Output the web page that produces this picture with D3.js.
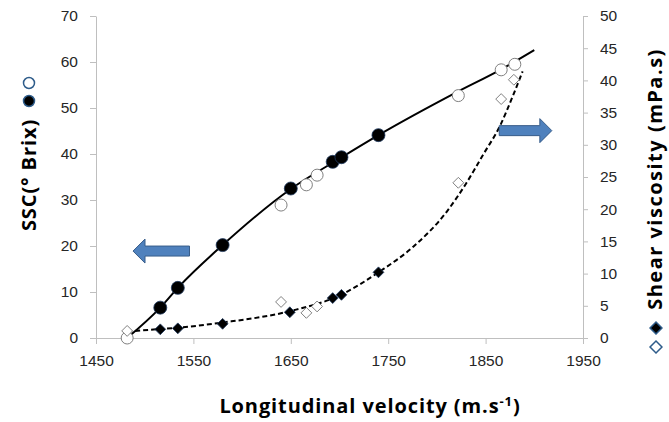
<!DOCTYPE html>
<html>
<head>
<meta charset="utf-8">
<script src="https://cdn.jsdelivr.net/npm/d3@7"></script>
<style>
  body { margin: 0; background: #fff; }
  svg { font-family: "Open Sans", Lato, sans-serif; }
  .tick text { fill: #262626; font-size: 15.5px; }
  .domain, .tick line { stroke: #bfbfbf; }
  .title { font-weight: bold; fill: #000; font-size: 20px; letter-spacing: 0.9px; }
</style>
</head>
<body>
<div id="chart"></div>
<script>
// SSC (left axis, °Brix) vs longitudinal velocity
var sscFilledX = [1516, 1534, 1580, 1650, 1693, 1702, 1740];
var sscFilledY = [6.6, 10.9, 20.2, 32.5, 38.3, 39.3, 44.1];
var sscOpenX = [1482, 1640, 1666, 1677, 1822, 1866, 1880];
var sscOpenY = [0, 28.9, 33.3, 35.4, 52.7, 58.3, 59.5];
// shear viscosity (right axis, mPa.s)
var viscFilledX = [1516, 1534, 1580, 1649, 1693, 1702, 1740];
var viscFilledY = [1.35, 1.5, 2.2, 4.0, 6.2, 6.7, 10.2];
var viscOpenX = [1482, 1640, 1666, 1677, 1822, 1866, 1879];
var viscOpenY = [1.1, 5.6, 3.9, 4.9, 24.1, 37.1, 40.1];
// trend lines
var sscFitX = [1482, 1516, 1534, 1580, 1650, 1700, 1740, 1820, 1866, 1900];
var sscFitY = [0, 6.6, 10.9, 20.2, 32.4, 39.0, 44.1, 53.4, 58.4, 62.6];
var viscFitX = [1482, 1516, 1534, 1580, 1650, 1700, 1742, 1776, 1810, 1830, 1848, 1865, 1878, 1888];
var viscFitY = [1.0, 1.4, 1.6, 2.4, 4.2, 6.6, 10.4, 14.2, 19.6, 24.0, 28.6, 33.0, 37.6, 41.4];

var xTicks = [1450, 1550, 1650, 1750, 1850, 1950];
var leftTicks = [0, 10, 20, 30, 40, 50, 60, 70];
var rightTicks = [0, 5, 10, 15, 20, 25, 30, 35, 40, 45, 50];

var width = 669, height = 422;
var margin = {top: 16, right: 86, bottom: 84, left: 96};

var svg = d3.select("#chart").append("svg")
    .attr("width", width)
    .attr("height", height);

var x = d3.scaleLinear().domain([1450, 1950]).range([margin.left, width - margin.right]);
var yL = d3.scaleLinear().domain([0, 70]).range([height - margin.bottom, margin.top]);
var yR = d3.scaleLinear().domain([0, 50]).range([height - margin.bottom, margin.top]);

svg.append("g")
    .attr("transform", "translate(0," + (height - margin.bottom) + ")")
    .call(d3.axisBottom(x).tickValues(xTicks).tickFormat(d3.format("d"))
        .tickSize(6).tickPadding(9).tickSizeOuter(0))
    .call(g => g.selectAll(".tick text").attr("dy", "0.85em"));

svg.append("g")
    .attr("transform", "translate(" + margin.left + ",0)")
    .call(d3.axisLeft(yL).tickValues(leftTicks).tickSize(6).tickPadding(12).tickSizeOuter(0));

svg.append("g")
    .attr("transform", "translate(" + (width - margin.right) + ",0)")
    .call(d3.axisRight(yR).tickValues(rightTicks).tickSize(5).tickPadding(12).tickSizeOuter(0));

// trend lines
var sscLine = d3.line().x(d => x(d[0])).y(d => yL(d[1])).curve(d3.curveMonotoneX);
var viscLine = d3.line().x(d => x(d[0])).y(d => yR(d[1])).curve(d3.curveMonotoneX);

svg.append("path")
    .datum(d3.zip(sscFitX, sscFitY))
    .attr("d", sscLine)
    .attr("fill", "none")
    .attr("stroke", "#000")
    .attr("stroke-width", 2);

svg.append("path")
    .datum(d3.zip(viscFitX, viscFitY))
    .attr("d", viscLine)
    .attr("fill", "none")
    .attr("stroke", "#000")
    .attr("stroke-width", 2)
    .attr("stroke-dasharray", "5,3");

var diamond = d3.symbol().type(d3.symbolDiamond2).size(75);

// open markers
svg.append("g").selectAll("circle")
    .data(d3.zip(sscOpenX, sscOpenY))
    .enter().append("circle")
    .attr("cx", d => x(d[0]))
    .attr("cy", d => yL(d[1]))
    .attr("r", 6)
    .attr("fill", "#fff")
    .attr("stroke", "#808080")
    .attr("stroke-width", 1);

svg.append("g").selectAll("path")
    .data(d3.zip(viscOpenX, viscOpenY))
    .enter().append("path")
    .attr("d", diamond)
    .attr("transform", d => "translate(" + x(d[0]) + "," + yR(d[1]) + ")")
    .attr("fill", "#fff")
    .attr("stroke", "#808080")
    .attr("stroke-width", 1);

// filled markers
svg.append("g").selectAll("circle")
    .data(d3.zip(sscFilledX, sscFilledY))
    .enter().append("circle")
    .attr("cx", d => x(d[0]))
    .attr("cy", d => yL(d[1]))
    .attr("r", 6.5)
    .attr("fill", "#000")
    .attr("stroke", "#1f3a5f")
    .attr("stroke-width", 0.8);

svg.append("g").selectAll("path")
    .data(d3.zip(viscFilledX, viscFilledY))
    .enter().append("path")
    .attr("d", diamond)
    .attr("transform", d => "translate(" + x(d[0]) + "," + yR(d[1]) + ")")
    .attr("fill", "#000")
    .attr("stroke", "#1f3a5f")
    .attr("stroke-width", 0.8);

// block arrows showing which axis each set belongs to
function arrow(x0, x1, yc, dir) {
    var head = 12, bh = 5, hh = 12;
    var pts;
    if (dir < 0) {
        pts = [[x0, yc], [x0 + head, yc - hh], [x0 + head, yc - bh], [x1, yc - bh],
               [x1, yc + bh], [x0 + head, yc + bh], [x0 + head, yc + hh]];
    } else {
        pts = [[x1, yc], [x1 - head, yc - hh], [x1 - head, yc - bh], [x0, yc - bh],
               [x0, yc + bh], [x1 - head, yc + bh], [x1 - head, yc + hh]];
    }
    svg.append("polygon")
        .attr("points", pts.map(p => p.join(",")).join(" "))
        .attr("fill", "#4f81bd")
        .attr("stroke", "#385d8a")
        .attr("stroke-width", 1);
}
arrow(x(1488), x(1546), yL(18.9), -1);
arrow(x(1864), x(1918), yR(32.2), 1);

// axis titles
var xt = svg.append("text")
    .attr("class", "title")
    .attr("x", 370).attr("y", 413)
    .attr("text-anchor", "middle");
xt.append("tspan").text("Longitudinal velocity (m.s");
xt.append("tspan").attr("dy", -7).attr("font-size", 13).text("-1");
xt.append("tspan").attr("dy", 7).text(")");

svg.append("text")
    .attr("class", "title")
    .attr("transform", "translate(36,175) rotate(-90)")
    .attr("text-anchor", "middle")
    .text("SSC(° Brix)");

svg.append("text")
    .attr("class", "title")
    .attr("transform", "translate(662,179) rotate(-90)")
    .attr("text-anchor", "middle")
    .style("letter-spacing", "1.5px")
    .text("Shear viscosity (mPa.s)");

// legend markers next to the titles
svg.append("circle").attr("cx", 29).attr("cy", 83).attr("r", 5.5)
    .attr("fill", "#fff").attr("stroke", "#2e5c8a").attr("stroke-width", 1.5);
svg.append("circle").attr("cx", 29).attr("cy", 101).attr("r", 5.5)
    .attr("fill", "#000").attr("stroke", "#2e5c8a").attr("stroke-width", 1.5);
svg.append("path").attr("d", diamond.size(90)())
    .attr("transform", "translate(656,328)")
    .attr("fill", "#000").attr("stroke", "#2e5c8a").attr("stroke-width", 1.5);
svg.append("path").attr("d", diamond.size(90)())
    .attr("transform", "translate(656,347)")
    .attr("fill", "#fff").attr("stroke", "#2e5c8a").attr("stroke-width", 1.5);
</script>
</body>
</html>
